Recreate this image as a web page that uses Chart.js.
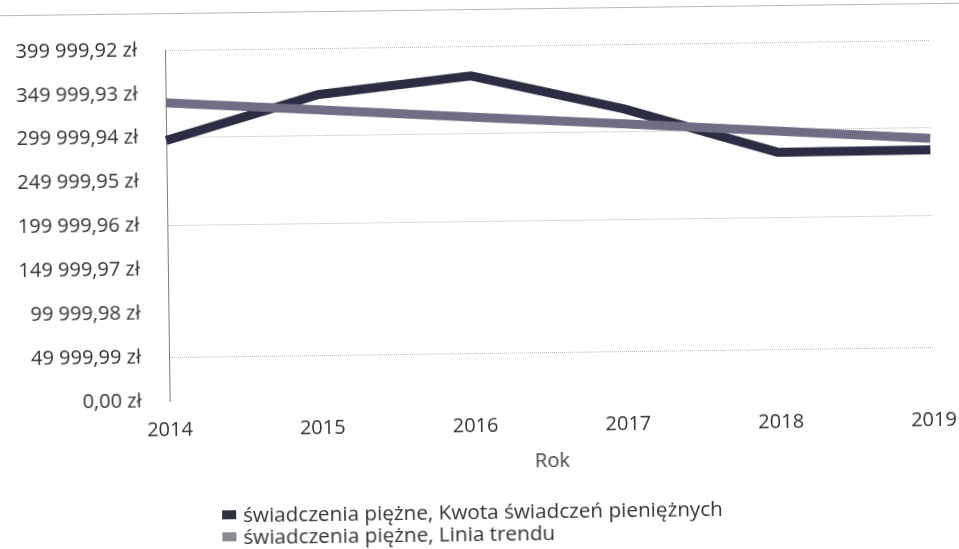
<!DOCTYPE html>
<html lang="pl">
<head>
<meta charset="utf-8">
<title>Świadczenia pieniężne</title>
<script src="https://cdn.jsdelivr.net/npm/chart.js@4.4.1/dist/chart.umd.min.js"></script>
<style>
    html, body { margin: 0; padding: 0; background: #fff; }
    body { width: 959px; height: 549px; overflow: hidden; }
    /* the scanned page is slightly tilted */
    .page { position: relative; width: 959px; height: 549px; transform: rotate(-0.75deg); transform-origin: 50% 50%; }
    .page canvas { position: absolute; left: 0; top: 0; }
    .rule { position: absolute; left: -30px; right: -30px; top: 9px; height: 1px; background: #b8b8b8; }
    .legend { position: absolute; left: 219px; top: 500px; font-family: "Open Sans", sans-serif; font-size: 20.7px; color: #333; line-height: 22px; }
    .legend .item { display: flex; align-items: center; white-space: nowrap; height: 22px; }
    .legend .box { display: inline-block; width: 14px; height: 9px; margin-right: 7px; }
</style>
</head>
<body>
<div class="page">
    <div class="rule"></div>
    <canvas id="lineChart" width="959" height="549"></canvas>
    <div class="legend" id="legend"></div>
</div>

<script>
// ======================
// DATA
// ======================
const years = ['2014', '2015', '2016', '2017', '2018', '2019'];

const kwota = [297000, 347000, 366000, 326000, 274500, 275000];
const liniaTrendu = [340000, 329500, 319000, 309000, 298500, 288000];

const yTicks = [0, 49999.99, 99999.98, 149999.97, 199999.96, 249999.95, 299999.94, 349999.93, 399999.92];

const seriesNames = [
    'świadczenia piężne, Kwota świadczeń pieniężnych',
    'świadczenia piężne, Linia trendu'
];

const lineColors = ['#2c2d42', '#6f6e84'];
const legendColors = ['#2f3040', '#8a8996'];

// polski zapis kwot: "399 999,92 zł"
function formatZl(v) {
    const parts = Number(v).toFixed(2).split('.');
    const calkowite = parts[0].replace(/\B(?=(\d{3})+(?!\d))/g, ' ');
    return calkowite + ',' + parts[1] + ' zł';
}

document.addEventListener('DOMContentLoaded', function () {

    const font = { family: '"Open Sans", sans-serif', size: 20 };

    new Chart(document.getElementById('lineChart'), {
        type: 'line',
        data: {
            labels: years,
            datasets: [{
                label: seriesNames[0],
                data: kwota,
                borderColor: lineColors[0],
                backgroundColor: lineColors[0],
                borderWidth: 9,
                pointRadius: 0,
                tension: 0,
                order: 1
            }, {
                label: seriesNames[1],
                data: liniaTrendu,
                borderColor: lineColors[1],
                backgroundColor: lineColors[1],
                borderWidth: 9,
                pointRadius: 0,
                tension: 0,
                order: 0
            }]
        },
        options: {
            responsive: false,
            animation: false,
            layout: {
                padding: { left: 8, top: 46, right: 27, bottom: 75 }
            },
            plugins: {
                legend: { display: false },
                tooltip: { enabled: false }
            },
            scales: {
                x: {
                    offset: false,
                    afterFit: axis => {
                        axis.height = 77;
                        // the label padding would otherwise eat into the right side
                        axis.paddingLeft = 0;
                        axis.paddingRight = 0;
                    },
                    grid: { display: false, drawTicks: false },
                    border: { display: false },
                    ticks: { font, color: '#333', padding: 17, maxRotation: 0 },
                    title: {
                        display: true,
                        text: 'Rok',
                        font,
                        color: '#444',
                        padding: { top: 2, bottom: 0 }
                    }
                },
                y: {
                    min: 0,
                    max: 399999.92,
                    afterBuildTicks: axis => {
                        axis.ticks = yTicks.map(v => ({ value: v }));
                    },
                    afterFit: axis => {
                        axis.width = 160;
                    },
                    grid: {
                        drawTicks: false,
                        lineWidth: 1,
                        color: ctx => [1, 4, 6, 8].includes(ctx.index) ? '#b3b3b3' : 'rgba(0,0,0,0)'
                    },
                    border: { display: true, color: '#7a7a7a', width: 1, dash: [1, 1] },
                    ticks: {
                        font,
                        color: '#333',
                        padding: 28,
                        callback: value => formatZl(value)
                    }
                }
            }
        }
    });

    // legenda pod wykresem, dwa wiersze wyrównane do lewej
    const legend = document.getElementById('legend');
    seriesNames.forEach((name, i) => {
        const item = document.createElement('div');
        item.className = 'item';
        item.innerHTML = `<span class="box" style="background:${legendColors[i]}"></span><span>${name}</span>`;
        legend.appendChild(item);
    });

});
</script>
</body>
</html>
